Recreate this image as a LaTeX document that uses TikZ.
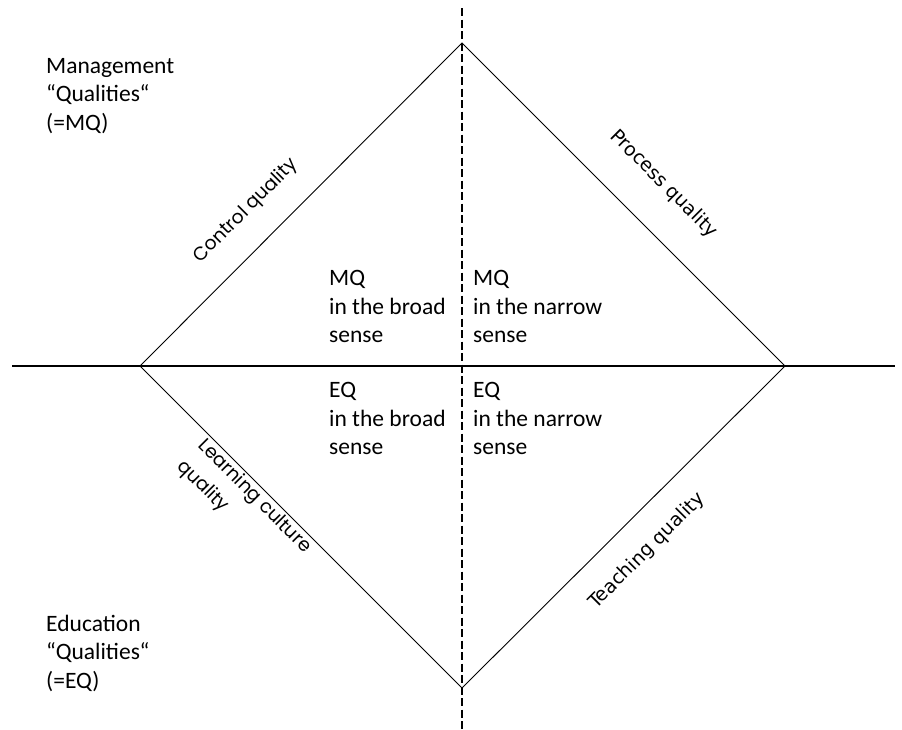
\documentclass[tikz,border=0pt]{standalone}
\usepackage{fontspec}
\setmainfont{Carlito}
\newfontfamily\geofont{Poppins}
\newfontfamily\verfont{DejaVu Sans}
\begin{document}
\begin{tikzpicture}[x=1pt,y=-1pt,
  axisline/.style={line width=1.7pt},
  dashaxis/.style={line width=2.2pt, dash pattern=on 8pt off 3.5pt},
  diamondline/.style={line width=0.9pt},
  maintext/.style={inner sep=0pt, anchor=base west, align=left, font=\fontsize{23.5}{28.5}\selectfont},
  edgelabelgeo/.style={inner sep=0pt, align=left, font=\geofont\fontsize{18.8}{29}\selectfont},
  edgelabelver/.style={inner sep=0pt, align=left, font=\verfont\fontsize{19}{28}\selectfont}]
\useasboundingbox (0,0) rectangle (902,729);
\coordinate (T) at (462,43);
\coordinate (L) at (140,366);
\coordinate (R) at (785,366);
\coordinate (B) at (462,688);
\coordinate (hl) at (12,366);
\coordinate (hr) at (895,366);
\coordinate (vt) at (462,8);
\coordinate (vb) at (462,729);
\draw[axisline] (hl) -- (hr);
\draw[diamondline] (T) -- (R) -- (B) -- (L) -- cycle;
\draw[dashaxis] (vt) -- (vb);
% corner texts (base anchor = baseline of the last line)
\node[maintext] (mgmt) at (46,130) {Management\\“Qualities“\\(=MQ)};
\node[maintext] (edu) at (46,688) {Education\\“Qualities“\\(=EQ)};
% quadrant texts
\node[maintext] (mqb) at (329,342.5) {MQ\\in the broad\\sense};
\node[maintext] (mqn) at (473,342.5) {MQ\\in the narrow\\sense};
\node[maintext] (eqb) at (329,454.5) {EQ\\in the broad\\sense};
\node[maintext] (eqn) at (473,454.5) {EQ\\in the narrow\\sense};
% edge labels
\node[edgelabelgeo, rotate=45] (ctrl) at (246,211) {Control quality};
\node[edgelabelver, rotate=-45] (proc) at (664,184) {Process quality};
\node[edgelabelver, rotate=45] (teach) at (647,551) {Teaching quality};
\node[edgelabelgeo, rotate=-45] (learn) at (244,507) {Learning culture\\quality};
\end{tikzpicture}
\end{document}
